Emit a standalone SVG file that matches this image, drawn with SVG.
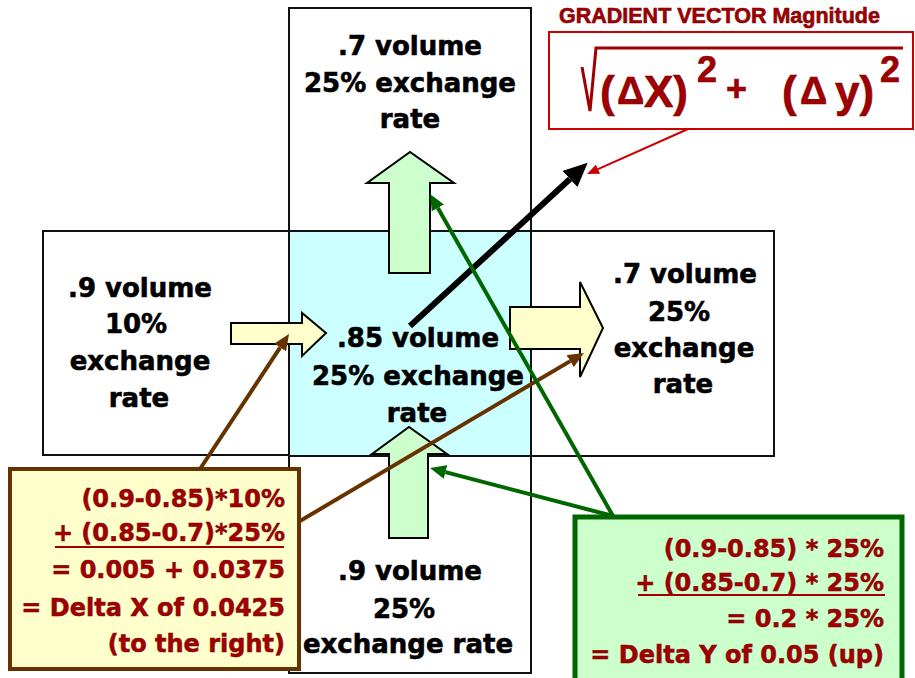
<svg xmlns="http://www.w3.org/2000/svg" width="915" height="678" viewBox="0 0 915 678">
<style>
.cell{fill:#fff;stroke:#111;stroke-width:2}
.ctr{fill:#ccffff;stroke:#111;stroke-width:2}
.lbl{font-family:"DejaVu Sans",Verdana,sans-serif;font-weight:bold;font-size:26px;fill:#000;stroke:#000;stroke-width:0.6;text-anchor:middle}
.calc{font-family:"DejaVu Sans",Verdana,sans-serif;font-weight:bold;font-size:24px;fill:#a00000;stroke:#7a0000;stroke-width:0.5;text-anchor:end}
.ya{fill:#ffffcc;stroke:#000;stroke-width:2;stroke-linejoin:miter}
.ga{fill:#ccffcc;stroke:#000;stroke-width:2;stroke-linejoin:miter}
.brown{stroke:#663300;stroke-width:4;fill:none}
.green{stroke:#006600;stroke-width:4;fill:none}
.fx{font-family:"Liberation Sans",Arial,sans-serif;font-weight:bold;fill:#a00000;stroke:#7a0000;stroke-width:0.6}
</style>
<defs>
<marker id="mBlack" viewBox="0 -11 24 22" refX="0" refY="0" markerWidth="24" markerHeight="22" markerUnits="userSpaceOnUse" orient="auto"><path d="M0,-11 L24,0 L0,11 z" fill="#000"/></marker>
<marker id="mBrown" viewBox="0 -7 16 14" refX="0" refY="0" markerWidth="16" markerHeight="14" markerUnits="userSpaceOnUse" orient="auto"><path d="M0,-7 L16,0 L0,7 z" fill="#663300"/></marker>
<marker id="mGreen" viewBox="0 -7 16 14" refX="0" refY="0" markerWidth="16" markerHeight="14" markerUnits="userSpaceOnUse" orient="auto"><path d="M0,-7 L16,0 L0,7 z" fill="#006600"/></marker>
<marker id="mRed" viewBox="0 -5 12 10" refX="0" refY="0" markerWidth="12" markerHeight="10" markerUnits="userSpaceOnUse" orient="auto"><path d="M0,-5 L12,0 L0,5 z" fill="#cc0000"/></marker>
</defs>
<rect width="915" height="678" fill="#fff"/>

<g id="top-cell">
<rect class="cell" x="289" y="8" width="242" height="223"/>
<text class="lbl" x="410" y="55">.7 volume</text>
<text class="lbl" x="410" y="92">25% exchange</text>
<text class="lbl" x="410" y="128">rate</text>
</g>
<g id="left-cell">
<rect class="cell" x="43" y="231" width="246" height="224"/>
<text class="lbl" x="140" y="297">.9 volume</text>
<text class="lbl" x="136" y="333">10%</text>
<text class="lbl" x="140" y="370">exchange</text>
<text class="lbl" x="139" y="407">rate</text>
</g>
<g id="right-cell">
<rect class="cell" x="531" y="231" width="243" height="225"/>
<text class="lbl" x="685" y="283">.7 volume</text>
<text class="lbl" x="679" y="321">25%</text>
<text class="lbl" x="684" y="357">exchange</text>
<text class="lbl" x="683" y="393">rate</text>
</g>
<g id="bottom-cell">
<rect class="cell" x="289" y="456" width="242" height="217"/>
<text class="lbl" x="410" y="580">.9 volume</text>
<text class="lbl" x="404" y="618">25%</text>
<text class="lbl" x="408" y="653">exchange rate</text>
</g>
<g id="center-cell">
<rect class="ctr" x="289" y="231" width="242" height="225"/>
<text class="lbl" x="418" y="347">.85 volume</text>
<text class="lbl" x="418" y="385">25% exchange</text>
<text class="lbl" x="417" y="422">rate</text>
</g>

<g id="flow-arrows">
<polygon class="ga" points="389,273 430,273 430,183 454,183 410,152 367,183 389,183"/>
<polygon class="ga" points="389,538 428,538 428,454 447,454 409,427 372,454 389,454"/>
<polygon class="ya" points="231,323 302,323 302,313 326,333 302,356 302,344 231,344"/>
<polygon class="ya" points="510,307 580,307 580,282 603,328 580,377 580,349 510,349"/>
</g>

<g id="delta-x-box">
<rect x="10" y="469" width="289" height="200" fill="#ffffcc" stroke="#663300" stroke-width="4"/>
<text class="calc" x="285" y="507">(0.9-0.85)*10%</text>
<text class="calc" x="285" y="541">+ (0.85-0.7)*25%</text>
<line x1="55" y1="547" x2="284" y2="547" stroke="#a00000" stroke-width="2"/>
<text class="calc" x="285" y="578">= 0.005 + 0.0375</text>
<text class="calc" x="285" y="616">= Delta X of 0.0425</text>
<text class="calc" x="285" y="652">(to the right)</text>
</g>

<g id="delta-y-box">
<rect x="575" y="517" width="327" height="175" fill="#ccffcc" stroke="#006600" stroke-width="5"/>
<text class="calc" x="884" y="557">(0.9-0.85) * 25%</text>
<text class="calc" x="884" y="591">+ (0.85-0.7) * 25%</text>
<line x1="638" y1="595" x2="885" y2="595" stroke="#a00000" stroke-width="2"/>
<text class="calc" x="884" y="627">= 0.2 * 25%</text>
<text class="calc" x="884" y="663">= Delta Y of 0.05 (up)</text>
</g>

<g id="magnitude">
<text class="fx" x="559" y="23" font-size="21.5">GRADIENT VECTOR Magnitude</text>
<rect x="549" y="32" width="364" height="97" fill="#fff" stroke="#cc0000" stroke-width="2"/>
<path d="M582,67 L590,111 L596,48 L903,48" fill="none" stroke="#a00000" stroke-width="3"/>
<text class="fx" x="600" y="107" font-size="44">(</text>
<text class="fx" x="617" y="104" font-size="38" font-weight="normal" stroke="none">Δ</text>
<text class="fx" x="644" y="107" font-size="44">X)</text>
<text class="fx" x="697" y="82" font-size="36">2</text>
<text class="fx" x="726" y="101" font-size="36">+</text>
<text class="fx" x="782" y="107" font-size="44">(</text>
<text class="fx" x="800" y="104" font-size="38" font-weight="normal" stroke="none">Δ</text>
<text class="fx" x="835" y="107" font-size="44">y)</text>
<text class="fx" x="880" y="82" font-size="36">2</text>
</g>

<g id="connectors">
<line x1="410" y1="326" x2="570" y2="179" stroke="#000" stroke-width="6" marker-end="url(#mBlack)"/>
<line class="brown" x1="200" y1="469" x2="280.2" y2="347.4" marker-end="url(#mBrown)"/>
<line class="brown" x1="300" y1="521" x2="570.2" y2="361.1" marker-end="url(#mBrown)"/>
<line class="green" x1="613" y1="516" x2="437.9" y2="207.9" marker-end="url(#mGreen)"/>
<line class="green" x1="613" y1="516" x2="445.5" y2="472.1" marker-end="url(#mGreen)"/>
<line x1="688" y1="129" x2="598" y2="169.1" stroke="#cc0000" stroke-width="2" marker-end="url(#mRed)"/>
</g>
</svg>
